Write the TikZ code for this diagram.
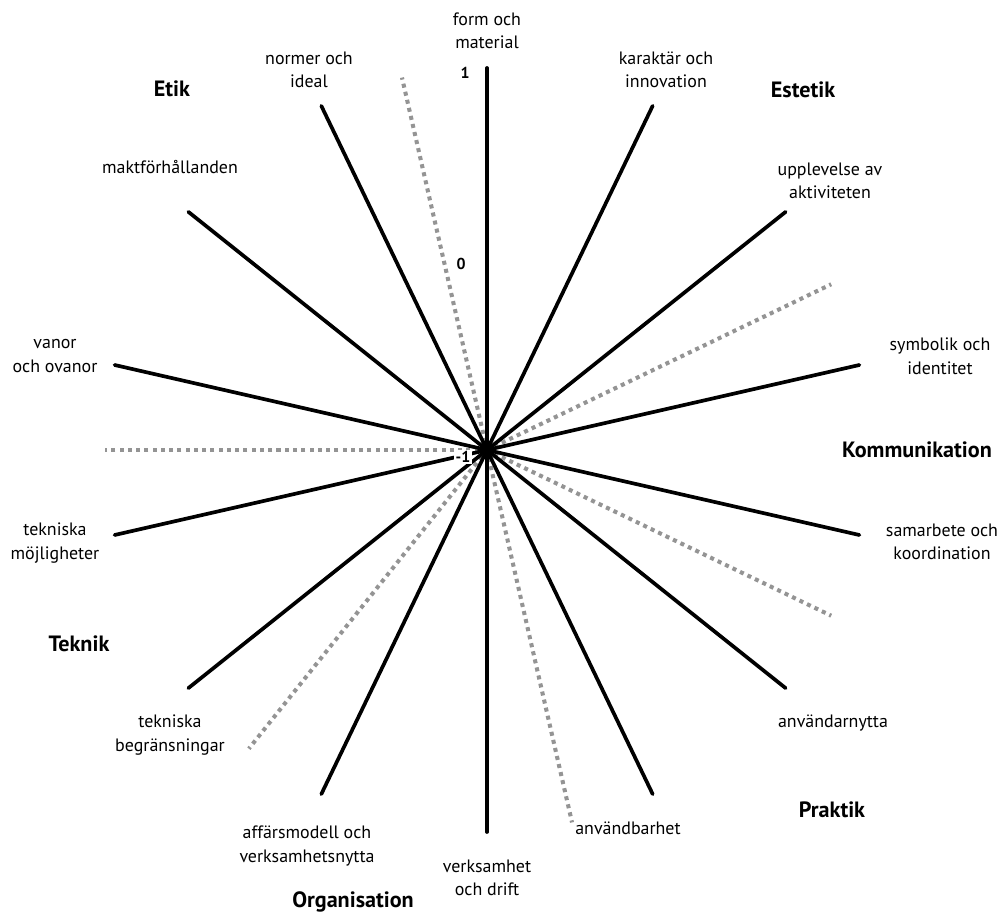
\documentclass[tikz,border=0pt]{standalone}
\usepackage{fontspec}
\setmainfont{PT Sans}
\usepackage{tikz}
\tikzset{>=latex}
\tikzset{
  spoke/.style={line width=2.1pt,color=black,line cap=round},
  divider/.style={line width=2.3pt,color=black!42,dash pattern=on 2.3pt off 2.4pt,line cap=butt},
  aspect/.style={align=center,font=\fontsize{10.2}{13.4}\selectfont,inner sep=0pt},
  area/.style={font=\fontsize{12.6}{15}\selectfont\bfseries,inner sep=0pt},
  tick/.style={font=\fontsize{9}{10}\selectfont\bfseries,inner sep=1pt}
}

\begin{document}
\begin{tikzpicture}[line join=round,x=1.0cm,y=1.0cm]
			\useasboundingbox (-9.74,-9.34) rectangle (10.3,9.0);
			\coordinate (O) at (0,0);
			% grey borders between the areas
			\foreach \a [count=\i] in {102.86,25.71,-25.71,-77.14,-128.57,180}{
				\coordinate (d\i) at (\a:7.64);
				\draw[divider] (O) -- (d\i);
			}
			% one spoke per aspect
			\foreach \a [count=\i] in {90,64.29,38.57,12.86,-12.86,-38.57,-64.29,-90,-115.71,-141.43,-167.14,167.14,141.43,115.71}{
				\coordinate (s\i) at (\a:7.64);
				\draw[spoke] (O) -- (s\i);
			}
			\node[tick] (t1) at (-0.44,7.54) {1};
			\node[tick] (t0) at (-0.52,3.72) {0};
			\node[tick,fill=white] (tm) at (-0.48,-0.14) {-1};
			% aspects
			\node[aspect] (form) at (0,8.38) {form och\\material};
			\node[aspect] (kar) at (3.58,7.6) {karaktär och\\innovation};
			\node[aspect] (upp) at (6.86,5.38) {upplevelse av\\aktiviteten};
			\node[aspect] (sym) at (9.06,1.88) {symbolik och\\identitet};
			\node[aspect] (sam) at (9.1,-1.84) {samarbete och\\koordination};
			\node[aspect] (anv) at (6.92,-5.46) {användarnytta};
			\node[aspect] (anvb) at (2.82,-7.56) {användbarhet};
			\node[aspect] (verk) at (0,-8.56) {verksamhet\\och drift};
			\node[aspect] (aff) at (-3.6,-7.92) {affärsmodell och\\verksamhetsnytta};
			\node[aspect] (tbeg) at (-6.34,-5.7) {tekniska\\begränsningar};
			\node[aspect] (tmoj) at (-8.64,-1.86) {tekniska\\möjligheter};
			\node[aspect] (van) at (-8.64,1.88) {vanor\\och ovanor};
			\node[aspect] (makt) at (-6.34,5.66) {maktförhållanden};
			\node[aspect] (norm) at (-3.56,7.6) {normer och\\ideal};
			% areas
			\node[area] (etik) at (-6.3,7.22) {Etik};
			\node[area] (estetik) at (6.32,7.2) {Estetik};
			\node[area] (komm) at (8.6,0) {Kommunikation};
			\node[area] (prak) at (6.9,-7.2) {Praktik};
			\node[area] (org) at (-2.68,-9.04) {Organisation};
			\node[area] (tek) at (-8.16,-3.88) {Teknik};
\end{tikzpicture}
\end{document}
